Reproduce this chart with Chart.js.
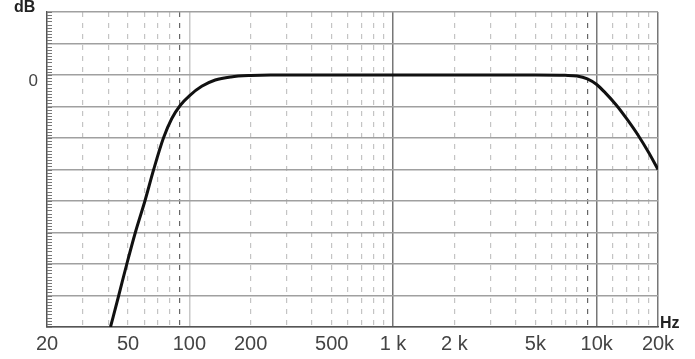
<!DOCTYPE html>
<html>
<head>
<meta charset="utf-8">
<script src="https://cdn.jsdelivr.net/npm/chart.js@4.4.1/dist/chart.umd.min.js"></script>
<style>
  body { margin: 0; background: #fff; }
  #wrap { width: 695px; height: 359px; position: relative; }
</style>
</head>
<body>
<div id="wrap"><canvas id="freqChart"></canvas></div>
<script>
        // Frequency response curve (Hz / dB)
        const freqs = [41, 45, 49.3, 54.3, 60.5, 66.8, 74.6, 82, 90.3, 100, 115, 134, 160, 200, 250, 500, 1000, 2000, 5000, 7000, 8000, 9000, 10000, 11000, 12500, 14000, 16000, 18000, 20000];
        const gains = [-40, -35, -30, -25, -20, -15, -10, -6.9, -4.8, -3.3, -1.8, -0.8, -0.3, -0.07, 0, 0, 0, 0, 0, -0.05, -0.15, -0.6, -1.5, -2.8, -4.8, -6.9, -9.6, -12.3, -15];

        // Axis labels and grid positions
        const xLabelValues = [20, 50, 100, 200, 500, 1000, 2000, 5000, 10000, 20000];
        const xLabelTexts = ['20', '50', '100', '200', '500', '1 k', '2 k', '5k', '10k', '20k'];
        const minorGrid = [30, 40, 50, 60, 70, 80, 90, 200, 300, 400, 500, 600, 700, 800, 900,
                           2000, 3000, 4000, 5000, 6000, 7000, 8000, 9000, 12000, 14000, 16000, 18000];
        const majorGrid = [100, 1000, 10000, 20000];
        const darkMinor = [90, 9000];
        const yMin = -40, yMax = 10, yStep = 5;

        const setTicks = values => scale => {
            scale.ticks = values.map(v => ({ value: v }));
        };

        // little ticks inside the left axis every 0.5 dB, plus the dB / Hz captions
        const decorPlugin = {
            id: 'decor',
            afterDraw(chart) {
                const ctx = chart.ctx;
                const y = chart.scales.y;
                const left = chart.chartArea.left;
                ctx.save();
                ctx.strokeStyle = '#777';
                ctx.lineWidth = 1;
                for (let v = yMin; v <= yMax; v += 0.5) {
                    const py = Math.round(y.getPixelForValue(v)) + 0.5;
                    ctx.beginPath();
                    ctx.moveTo(left, py);
                    ctx.lineTo(left + 5, py);
                    ctx.stroke();
                }
                ctx.fillStyle = '#222';
                ctx.font = 'bold 16px "Liberation Sans", Arial, sans-serif';
                ctx.textBaseline = 'alphabetic';
                ctx.fillText('dB', 14, 12);
                ctx.fillText('Hz', 660, 328);
                ctx.restore();
            }
        };

        const ctx = document.getElementById('freqChart').getContext('2d');
        const chart = new Chart(ctx, {
            type: 'line',
            data: {
                datasets: [{
                    data: freqs.map((f, i) => ({ x: f, y: gains[i] })),
                    borderColor: '#111',
                    borderWidth: 3,
                    pointRadius: 0,
                    cubicInterpolationMode: 'monotone',
                    fill: false
                }]
            },
            options: {
                responsive: true,
                maintainAspectRatio: false,
                animation: false,
                layout: { padding: { top: 12, right: 37, left: 0, bottom: 0 } },
                plugins: {
                    legend: { display: false },
                    tooltip: { enabled: false }
                },
                scales: {
                    x: {
                        type: 'logarithmic',
                        position: 'bottom',
                        min: 20,
                        max: 20000,
                        afterBuildTicks: setTicks(xLabelValues),
                        afterFit: s => { s.height = 32; s.paddingLeft = 0; s.paddingRight = 0; },
                        grid: { drawOnChartArea: false, drawTicks: false },
                        border: { color: '#555', width: 1.5 },
                        ticks: {
                            autoSkip: false,
                            maxRotation: 0,
                            padding: 5,
                            color: '#444',
                            font: { family: '"Liberation Sans", Arial, sans-serif', size: 20 },
                            callback: (v) => {
                                const i = xLabelValues.indexOf(v);
                                return i >= 0 ? xLabelTexts[i] : '';
                            }
                        }
                    },
                    xMinor: {
                        type: 'logarithmic',
                        position: 'bottom',
                        min: 20,
                        max: 20000,
                        afterBuildTicks: setTicks(minorGrid),
                        afterFit: s => { s.height = 0; },
                        grid: {
                            drawTicks: false,
                            lineWidth: 1.2,
                            color: c => darkMinor.includes(c.tick && c.tick.value) ? '#666' : '#c4c4c4'
                        },
                        border: { display: false, dash: [5, 6] },
                        ticks: { display: false }
                    },
                    xMajor: {
                        type: 'logarithmic',
                        position: 'bottom',
                        min: 20,
                        max: 20000,
                        afterBuildTicks: setTicks(majorGrid),
                        afterFit: s => { s.height = 0; },
                        grid: {
                            drawTicks: false,
                            lineWidth: 1.5,
                            color: c => (c.tick && c.tick.value === 100) ? '#c8c8c8' : '#777'
                        },
                        border: { display: false },
                        ticks: { display: false }
                    },
                    y: {
                        min: yMin,
                        max: yMax,
                        afterFit: s => { s.width = 47; s.paddingTop = 0; s.paddingBottom = 0; },
                        grid: { color: '#a0a0a0', lineWidth: 1.5, drawTicks: false },
                        border: { color: '#555', width: 1.5 },
                        ticks: {
                            stepSize: yStep,
                            padding: 9,
                            labelOffset: 6,
                            color: '#444',
                            font: { family: '"Liberation Sans", Arial, sans-serif', size: 17 },
                            callback: v => (v === 0 ? '0' : '')
                        }
                    }
                }
            },
            plugins: [decorPlugin]
        });
</script>
</body>
</html>
